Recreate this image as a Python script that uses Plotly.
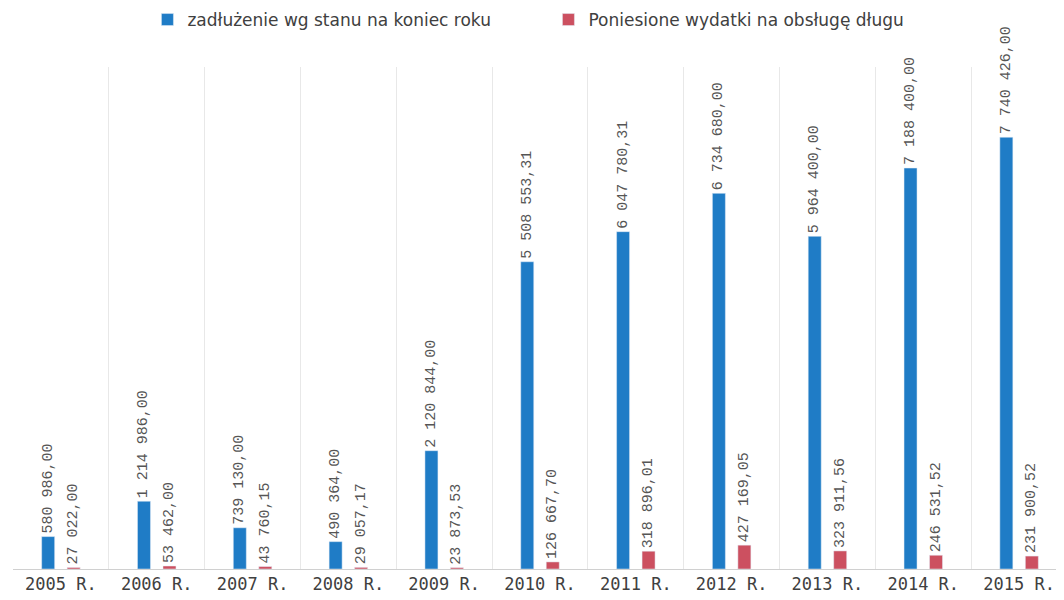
import plotly.graph_objects as go

years = ["2005 R.", "2006 R.", "2007 R.", "2008 R.", "2009 R.", "2010 R.",
         "2011 R.", "2012 R.", "2013 R.", "2014 R.", "2015 R."]
debt = [580986.00, 1214986.00, 739130.00, 490364.00, 2120844.00, 5508553.31,
        6047780.31, 6734680.00, 5964400.00, 7188400.00, 7740426.00]
costs = [27022.00, 53462.00, 43760.15, 29057.17, 23873.53, 126667.70,
         318896.01, 427169.05, 323911.56, 246531.52, 231900.52]


def pl_fmt(v):
    # polish style: space as thousands separator, comma as decimal mark
    return f"{v:,.2f}".replace(",", " ").replace(".", ",")


label_font = dict(family="Liberation Mono", size=15, color="#555555")

fig = go.Figure()
fig.add_trace(go.Bar(
    x=years, y=debt, name="zadłużenie wg stanu na koniec roku",
    marker_color="#1f7cc6",
    text=[pl_fmt(v) for v in debt], textposition="outside", textangle=-90,
    textfont=label_font, cliponaxis=False, constraintext="none",
))
fig.add_trace(go.Bar(
    x=years, y=costs, name="Poniesione wydatki na obsługę długu",
    marker_color="#cc5060",
    text=[pl_fmt(v) for v in costs], textposition="outside", textangle=-90,
    textfont=label_font, cliponaxis=False, constraintext="none",
))

# page body has an 8px default margin, so margins are shifted to compensate
fig.update_layout(
    width=1064, height=600,
    barmode="group", bargap=0.468, bargroupgap=0.49,
    plot_bgcolor="white", paper_bgcolor="white",
    margin=dict(l=5, r=5, t=59, b=39, autoexpand=False),
    font=dict(family="DejaVu Sans", color="#404040"),
    legend=dict(orientation="h", x=0.508, xanchor="center",
                yref="container", y=0.98, yanchor="middle",
                font=dict(family="DejaVu Sans", size=17, color="#404040"),
                entrywidth=356),
    showlegend=True,
)
fig.update_xaxes(
    tickson="boundaries", showgrid=True, gridcolor="#e8e8e8", gridwidth=1,
    showline=True, linecolor="#d0d0d0", ticks="", automargin=False,
    tickfont=dict(family="DejaVu Sans Mono", size=17, color="#404040"),
)
fig.update_yaxes(range=[0, 9000000], showgrid=False, showticklabels=False,
                 zeroline=False, showline=False)

fig.write_html("out.html")
